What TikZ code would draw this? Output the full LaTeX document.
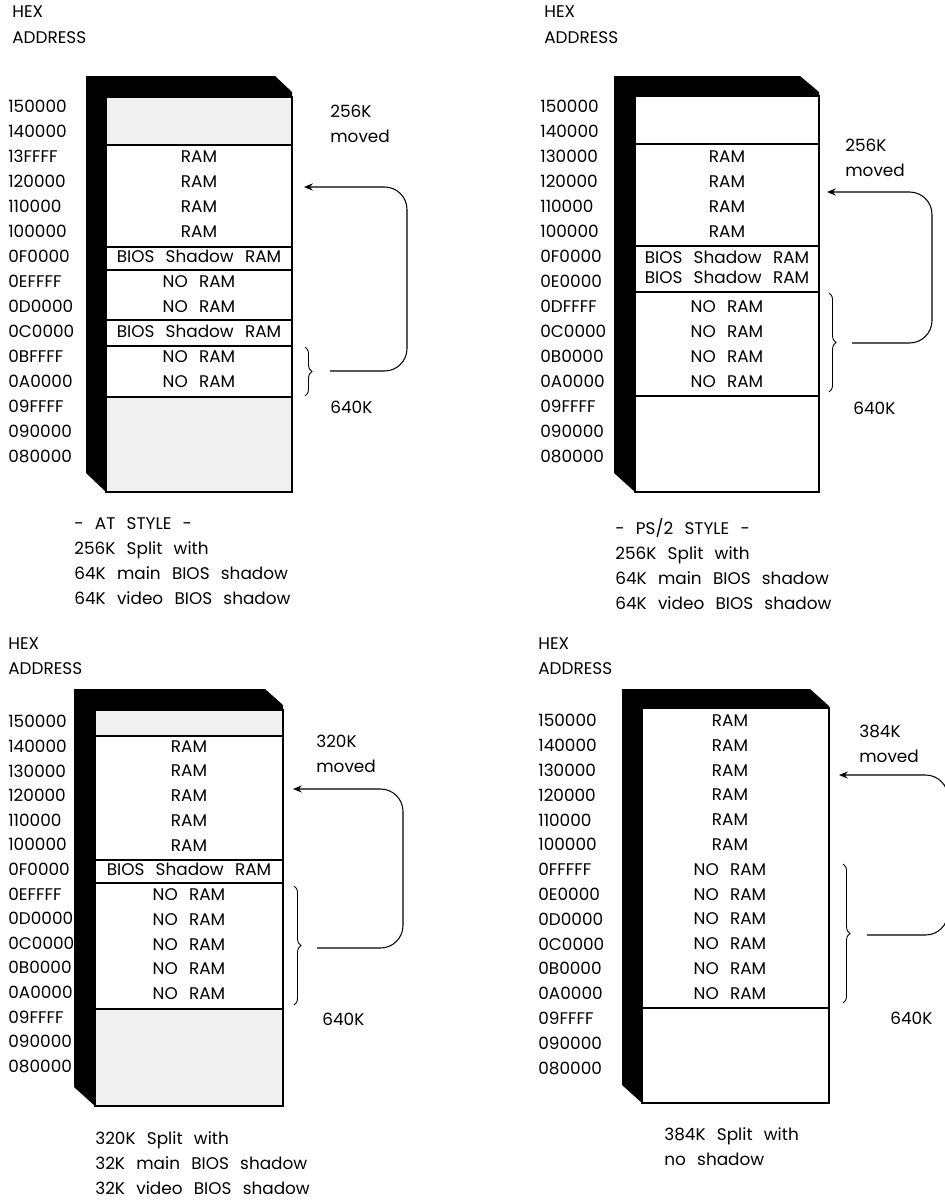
\documentclass[tikz,border=0pt]{standalone}
\usepackage{fontspec}
\setmainfont{Poppins}[WordSpace=2.5]
\usetikzlibrary{decorations.pathreplacing,arrows.meta}

\begin{document}
\begin{tikzpicture}[x=0.02cm,y=-0.02cm,
    every node/.style={font=\fontsize{9.6}{11}\selectfont, inner sep=0pt},
    addr/.style={anchor=mid west},
    cell/.style={anchor=mid},
    region/.style={draw, line width=1.1pt},
    stipple/.style={region, fill=black!6},
    brc/.style={decorate, decoration={brace, amplitude=4pt}, line width=0.5pt},
    moved/.style={-{Stealth[length=5pt,width=4pt]}, line width=0.6pt, rounded corners=0.45cm}]
    \useasboundingbox (0,0) rectangle (944,1200);

    % AT style
    \node[addr] (hex1) at (12,13) {HEX};
    \node[addr] (adr1) at (12,39) {ADDRESS};
    \fill (86,473) -- (86,76) -- (275,76) -- (292,92) -- (292,97) -- (106,97) -- (106,492) -- cycle;
    \draw[stipple] (106,97) rectangle (292,145);
    \draw[region] (106,145) rectangle (292,247);
    \draw[region] (106,247) rectangle (292,270);
    \draw[region] (106,270) rectangle (292,320);
    \draw[region] (106,320) rectangle (292,346);
    \draw[region] (106,346) rectangle (292,397);
    \draw[stipple] (106,397) rectangle (292,492);
    \foreach \t [count=\i] in {150000,140000,13FFFF,120000,110000,100000,0F0000,0EFFFF,0D0000,0C0000,0BFFFF,0A0000,09FFFF,090000,080000}
        \node[addr] (a1-\i) at (8,83+25*\i) {\t};
    \node[cell] (c1-1) at (199,158) {RAM};
    \node[cell] (c1-2) at (199,183) {RAM};
    \node[cell] (c1-3) at (199,208) {RAM};
    \node[cell] (c1-4) at (199,233) {RAM};
    \node[cell] (c1-5) at (199,258) {BIOS Shadow RAM};
    \node[cell] (c1-6) at (199,283) {NO RAM};
    \node[cell] (c1-7) at (199,308) {NO RAM};
    \node[cell] (c1-8) at (199,333) {BIOS Shadow RAM};
    \node[cell] (c1-9) at (199,358) {NO RAM};
    \node[cell] (c1-10) at (199,383) {NO RAM};
    \draw[brc] (305,347) -- (305,396);
    \coordinate (s1) at (330,371);
    \coordinate (v1) at (407,280);
    \coordinate (t1) at (304,187);
    \draw[moved] (s1) -- (s1 -| v1) -- (t1 -| v1) -- (t1);
    \node[addr] (k1) at (330,113) {256K};
    \node[addr] (m1) at (330,138) {moved};
    \node[addr] (f1) at (330,409) {640K};
    \node[addr] (n1-1) at (74,525) {- AT STYLE -};
    \node[addr] (n1-2) at (74,550) {256K Split with};
    \node[addr] (n1-3) at (74,575) {64K main BIOS shadow};
    \node[addr] (n1-4) at (74,600) {64K video BIOS shadow};

    % PS/2 style
    \node[addr] (hex2) at (544,13) {HEX};
    \node[addr] (adr2) at (544,39) {ADDRESS};
    \fill (614,473) -- (614,76) -- (800,76) -- (819,92) -- (819,96) -- (635,96) -- (635,492) -- cycle;
    \draw[region, fill=white] (635,96) rectangle (819,144);
    \draw[region] (635,144) rectangle (819,246);
    \draw[region] (635,246) rectangle (819,292);
    \draw[region] (635,292) rectangle (819,396);
    \draw[region, fill=white] (635,396) rectangle (819,492);
    \foreach \t [count=\i] in {150000,140000,130000,120000,110000,100000,0F0000,0E0000,0DFFFF,0C0000,0B0000,0A0000,09FFFF,090000,080000}
        \node[addr] (a2-\i) at (540,83+25*\i) {\t};
    \node[cell] (c2-1) at (727,158) {RAM};
    \node[cell] (c2-2) at (727,183) {RAM};
    \node[cell] (c2-3) at (727,208) {RAM};
    \node[cell] (c2-4) at (727,233) {RAM};
    \node[cell] (c2-5) at (727,259) {BIOS Shadow RAM};
    \node[cell] (c2-6) at (727,279) {BIOS Shadow RAM};
    \node[cell] (c2-7) at (727,308) {NO RAM};
    \node[cell] (c2-8) at (727,333) {NO RAM};
    \node[cell] (c2-9) at (727,358) {NO RAM};
    \node[cell] (c2-10) at (727,383) {NO RAM};
    \draw[brc] (829,293) -- (829,392);
    \coordinate (s2) at (852,343);
    \coordinate (v2) at (932,280);
    \coordinate (t2) at (827,192);
    \draw[moved] (s2) -- (s2 -| v2) -- (t2 -| v2) -- (t2);
    \node[addr] (k2) at (845,147) {256K};
    \node[addr] (m2) at (845,172) {moved};
    \node[addr] (f2) at (853,410) {640K};
    \node[addr] (n2-1) at (615,530) {- PS/2 STYLE -};
    \node[addr] (n2-2) at (615,555) {256K Split with};
    \node[addr] (n2-3) at (615,580) {64K main BIOS shadow};
    \node[addr] (n2-4) at (615,605) {64K video BIOS shadow};

    % 320K split
    \node[addr] (hex3) at (8,645) {HEX};
    \node[addr] (adr3) at (8,670) {ADDRESS};
    \fill (74,1087) -- (74,689) -- (265,689) -- (283,705) -- (283,710) -- (95,710) -- (95,1106) -- cycle;
    \draw[stipple] (95,710) rectangle (283,736);
    \draw[region] (95,736) rectangle (283,860);
    \draw[region] (95,860) rectangle (283,883);
    \draw[region] (95,883) rectangle (283,1009);
    \draw[stipple] (95,1009) rectangle (283,1106);
    \foreach \t [count=\i] in {150000,140000,130000,120000,110000,100000,0F0000,0EFFFF,0D0000,0C0000,0B0000,0A0000,09FFFF,090000,080000}
        \node[addr] (a3-\i) at (8,698.4+24.6*\i) {\t};
    \node[cell] (c3-1) at (189,748) {RAM};
    \node[cell] (c3-2) at (189,772) {RAM};
    \node[cell] (c3-3) at (189,797) {RAM};
    \node[cell] (c3-4) at (189,822) {RAM};
    \node[cell] (c3-5) at (189,847) {RAM};
    \node[cell] (c3-6) at (189,871) {BIOS Shadow RAM};
    \node[cell] (c3-7) at (189,896) {NO RAM};
    \node[cell] (c3-8) at (189,921) {NO RAM};
    \node[cell] (c3-9) at (189,946) {NO RAM};
    \node[cell] (c3-10) at (189,970) {NO RAM};
    \node[cell] (c3-11) at (189,995) {NO RAM};
    \draw[brc] (294,886) -- (294,1005);
    \coordinate (s3) at (317,948);
    \coordinate (v3) at (403,900);
    \coordinate (t3) at (293,789);
    \draw[moved] (s3) -- (s3 -| v3) -- (t3 -| v3) -- (t3);
    \node[addr] (k3) at (316,743) {320K};
    \node[addr] (m3) at (316,768) {moved};
    \node[addr] (f3) at (322,1021) {640K};
    \node[addr] (n3-1) at (95,1140) {320K Split with};
    \node[addr] (n3-2) at (95,1165) {32K main BIOS shadow};
    \node[addr] (n3-3) at (95,1190) {32K video BIOS shadow};

    % 384K split
    \node[addr] (hex4) at (538,645) {HEX};
    \node[addr] (adr4) at (538,670) {ADDRESS};
    \fill (622,1085) -- (622,689) -- (810,689) -- (829,706) -- (829,708) -- (642,708) -- (642,1103) -- cycle;
    \draw[region, fill=white] (642,708) rectangle (829,1008);
    \draw[region, fill=white] (642,1008) rectangle (829,1103);
    \foreach \t [count=\i] in {150000,140000,130000,120000,110000,100000,0FFFFF,0E0000,0D0000,0C0000,0B0000,0A0000,09FFFF,090000,080000}
        \node[addr] (a4-\i) at (538,697.3+24.8*\i) {\t};
    \node[cell] (c4-1) at (730,722) {RAM};
    \node[cell] (c4-2) at (730,747) {RAM};
    \node[cell] (c4-3) at (730,772) {RAM};
    \node[cell] (c4-4) at (730,796) {RAM};
    \node[cell] (c4-5) at (730,821) {RAM};
    \node[cell] (c4-6) at (730,846) {RAM};
    \node[cell] (c4-7) at (730,871) {NO RAM};
    \node[cell] (c4-8) at (730,896) {NO RAM};
    \node[cell] (c4-9) at (730,920) {NO RAM};
    \node[cell] (c4-10) at (730,945) {NO RAM};
    \node[cell] (c4-11) at (730,970) {NO RAM};
    \node[cell] (c4-12) at (730,995) {NO RAM};
    \draw[brc] (843,864) -- (843,1003);
    \coordinate (s4) at (867,935);
    \coordinate (v4) at (948,900);
    \coordinate (t4) at (839,775);
    \draw[moved] (s4) -- (s4 -| v4) -- (t4 -| v4) -- (t4);
    \node[addr] (k4) at (859,733) {384K};
    \node[addr] (m4) at (859,758) {moved};
    \node[addr] (f4) at (890,1020) {640K};
    \node[addr] (n4-1) at (664,1136) {384K Split with};
    \node[addr] (n4-2) at (664,1161) {no shadow};
\end{tikzpicture}
\end{document}
